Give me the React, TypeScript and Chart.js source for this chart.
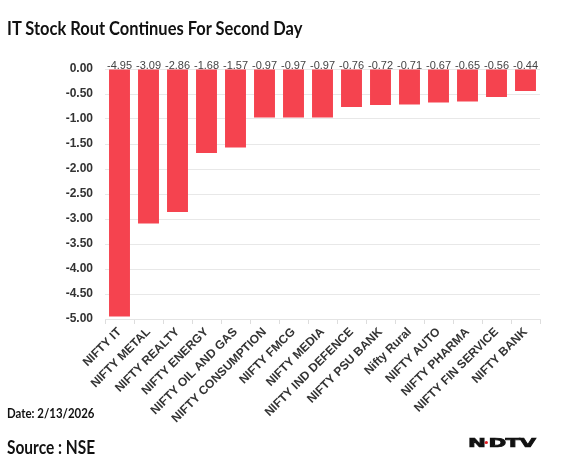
import React, { useEffect, useRef } from "react";
import { Chart, registerables } from "chart.js";

Chart.register(...registerables);

const categories = [
  "NIFTY IT",
  "NIFTY METAL",
  "NIFTY REALTY",
  "NIFTY ENERGY",
  "NIFTY OIL AND GAS",
  "NIFTY CONSUMPTION",
  "NIFTY FMCG",
  "NIFTY MEDIA",
  "NIFTY IND DEFENCE",
  "NIFTY PSU BANK",
  "Nifty Rural",
  "NIFTY AUTO",
  "NIFTY PHARMA",
  "NIFTY FIN SERVICE",
  "NIFTY BANK",
];
const values = [-4.95, -3.09, -2.86, -1.68, -1.57, -0.97, -0.97, -0.97, -0.76, -0.72, -0.71, -0.67, -0.65, -0.56, -0.44];
const yMin = -5;
const yMax = 0;
const yStep = 0.5;

const title = "IT Stock Rout Continues For Second Day";
const dateText = "Date: 2/13/2026";
const sourceText = "Source : NSE";

const BAR = "#f5434f";

const valueLabels = {
  id: "valueLabels",
  afterDatasetsDraw(chart: any) {
    const ctx = chart.ctx;
    const meta = chart.getDatasetMeta(0);
    const y0 = chart.scales.y.getPixelForValue(0);
    ctx.save();
    ctx.font = "11px 'Liberation Sans', Arial, sans-serif";
    ctx.fillStyle = "#444";
    ctx.textAlign = "center";
    ctx.textBaseline = "alphabetic";
    meta.data.forEach((el: any, i: number) => {
      ctx.fillText(values[i].toFixed(2), el.x, y0 - 0.5);
    });
    ctx.restore();
  },
};

export default function App() {
  const ref = useRef<HTMLCanvasElement>(null);
  useEffect(() => {
    const chart = new Chart(ref.current!, {
      type: "bar",
      data: {
        labels: categories,
        datasets: [
          {
            data: values,
            backgroundColor: BAR,
            borderWidth: 0,
            barPercentage: 0.95,
            categoryPercentage: 0.76,
          },
        ],
      },
      options: {
        animation: false,
        responsive: false,
        maintainAspectRatio: false,
        devicePixelRatio: 1,
        layout: { padding: { top: 69, right: 36, left: 0, bottom: 0 } },
        plugins: { legend: { display: false }, tooltip: { enabled: false }, title: { display: false } },
        scales: {
          x: {
            offset: true,
            afterFit: (s: any) => {
              s.height = 154;
            },
            grid: {
              display: true,
              drawOnChartArea: false,
              drawTicks: true,
              tickLength: 5,
              color: "#dddddd",
              offset: true,
            },
            border: { display: true, color: "#e4e4e4" },
            ticks: {
              autoSkip: false,
              maxRotation: 45,
              minRotation: 45,
              padding: 1,
              color: "#333",
              font: { family: "'Liberation Sans', Arial, sans-serif", size: 12, weight: "bold" },
            },
          },
          y: {
            min: yMin,
            max: yMax,
            afterFit: (s: any) => {
              s.width = 105;
            },
            grid: { color: "#e8e8e8", drawTicks: false },
            border: { display: false },
            ticks: {
              stepSize: yStep,
              padding: 12,
              color: "#333",
              font: { family: "'Liberation Sans', Arial, sans-serif", size: 12, weight: "bold" },
              callback: (v: any) => Number(v).toFixed(2),
            },
          },
        },
      },
      plugins: [valueLabels],
    });
    return () => chart.destroy();
  }, []);

  const calibri = "Lato, 'Open Sans', sans-serif";
  const txt = (left: number, top: number, size: number, lh: number, sx: number): React.CSSProperties => ({
    position: "absolute",
    left,
    top,
    fontFamily: calibri,
    fontWeight: 700,
    fontSize: size,
    color: "#111",
    whiteSpace: "nowrap",
    lineHeight: lh + "px",
    transform: `scaleX(${sx})`,
    transformOrigin: "left",
  });
  const logoFont = { fontFamily: "'DejaVu Sans', sans-serif", fontWeight: 700, fontSize: 13 } as any;
  return (
    <div style={{ position: "absolute", left: 0, top: 0, width: 576, height: 473, background: "#fff", overflow: "hidden" }}>
      <canvas ref={ref} width={576} height={473} style={{ position: "absolute", left: 0, top: 0, width: 576, height: 473 }} />
      <div style={txt(7, 15, 18, 26, 0.915)}>{title}</div>
      <div style={txt(7, 404, 13, 18, 0.88)}>{dateText}</div>
      <div style={txt(7, 435, 18, 24, 0.86)}>{sourceText}</div>
      <svg width={76} height={18} style={{ position: "absolute", left: 468, top: 434 }}>
        <g transform="scale(1.65 1)">
          <text x={0} y={13} fill="#111" stroke="#111" strokeWidth={0.7} style={logoFont}>
            N
          </text>
          <ellipse cx={11.1} cy={8.5} rx={1.0} ry={1.6} fill="#e21b22" />
          <text x={12.4} y={13} fill="#111" stroke="#111" strokeWidth={0.7} letterSpacing={-0.4} style={logoFont}>
            DTV
          </text>
        </g>
      </svg>
    </div>
  );
}
